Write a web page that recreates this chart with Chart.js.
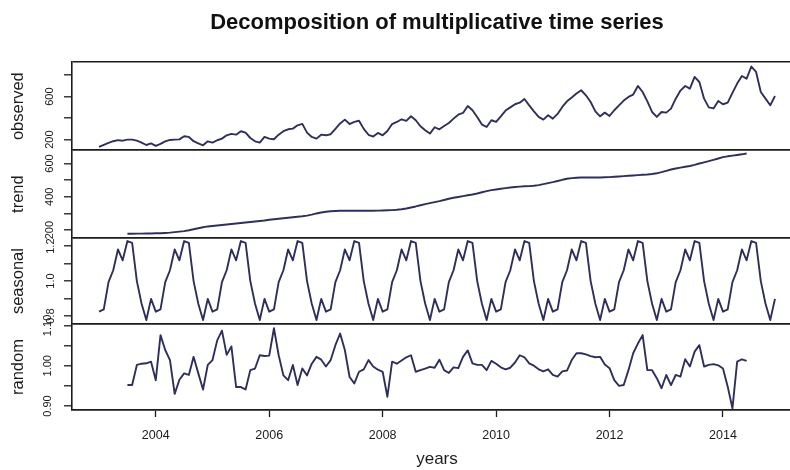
<!DOCTYPE html>
<html>
<head>
<meta charset="utf-8">
<script src="https://cdn.jsdelivr.net/npm/chart.js@4.4.1/dist/chart.umd.min.js"></script>
<style>
html, body { margin: 0; padding: 0; background: #ffffff; overflow: hidden; width: 790px; height: 470px; }
#wrap { width: 802px; height: 470px; }
</style>
</head>
<body>
<div id="wrap"><canvas id="c" width="802" height="470"></canvas></div>
<script>
// ---- time base (monthly series, Jan 2003 .. Dec 2014)
const startYear = 2003;
const perYear = 12;

// ---- observed (144 months)
const observed = [
  132, 152, 170, 185, 195, 190, 200, 200, 190, 172, 150, 165,
  141, 160, 184, 197, 200, 202, 231, 225, 185, 165, 147, 184,
  172, 194, 209, 240, 253, 246, 278, 265, 215, 184, 172, 225,
  209, 203, 246, 278, 296, 302, 333, 346, 265, 225, 209, 246,
  240, 250, 300, 350, 386, 345, 365, 375, 300, 245, 228, 262,
  240, 280, 345, 364, 389, 374, 417, 380, 324, 287, 256, 315,
  296, 327, 355, 395, 432, 448, 513, 473, 411, 340, 318, 380,
  364, 417, 470, 500, 529, 544, 578, 519, 463, 411, 386, 426,
  395, 439, 504, 556, 591, 628, 659, 612, 550, 463, 417, 451,
  420, 473, 519, 563, 597, 619, 699, 643, 556, 457, 411, 457,
  451, 488, 581, 656, 699, 674, 783, 736, 581, 500, 490, 560,
  529, 544, 634, 721, 792, 767, 880, 829, 643, 581, 519, 606
];

// ---- trend (centred moving average: first and last 6 months missing)
const trend = [
  null, null, null, null, null, null, 178, 178, 179, 179, 180, 180,
  181, 181, 183, 185, 188, 191, 194, 199, 205, 211, 217, 222,
  225, 228, 231, 234, 237, 240, 243, 246, 249, 252, 255, 258,
  262, 265, 268, 271, 274, 277, 280, 283, 287, 293, 300, 306,
  310, 313, 315, 316, 316, 316, 316, 316, 316, 316, 316, 317,
  318, 319, 320, 322, 325, 330, 336, 342, 349, 356, 362, 368,
  374, 381, 388, 394, 399, 404, 409, 414, 420, 427, 434, 440,
  444, 448, 452, 456, 459, 461, 463, 464, 466, 470, 476, 482,
  488, 495, 502, 508, 512, 514, 516, 516, 516, 516, 516, 517,
  518, 520, 522, 524, 526, 528, 530, 532, 534, 537, 541, 548,
  556, 564, 570, 575, 580, 585, 592, 600, 607, 614, 622, 630,
  638, 643, 647, 651, 655, 660, null, null, null, null, null, null
];

// ---- seasonal (144 months)
const seasonal = [
  0.825, 0.838, 0.994, 1.062, 1.181, 1.119, 1.229, 1.219, 1.000, 0.870, 0.777, 0.898,
  0.825, 0.838, 0.994, 1.062, 1.181, 1.119, 1.229, 1.219, 1.000, 0.870, 0.777, 0.898,
  0.825, 0.838, 0.994, 1.062, 1.181, 1.119, 1.229, 1.219, 1.000, 0.870, 0.777, 0.898,
  0.825, 0.838, 0.994, 1.062, 1.181, 1.119, 1.229, 1.219, 1.000, 0.870, 0.777, 0.898,
  0.825, 0.838, 0.994, 1.062, 1.181, 1.119, 1.229, 1.219, 1.000, 0.870, 0.777, 0.898,
  0.825, 0.838, 0.994, 1.062, 1.181, 1.119, 1.229, 1.219, 1.000, 0.870, 0.777, 0.898,
  0.825, 0.838, 0.994, 1.062, 1.181, 1.119, 1.229, 1.219, 1.000, 0.870, 0.777, 0.898,
  0.825, 0.838, 0.994, 1.062, 1.181, 1.119, 1.229, 1.219, 1.000, 0.870, 0.777, 0.898,
  0.825, 0.838, 0.994, 1.062, 1.181, 1.119, 1.229, 1.219, 1.000, 0.870, 0.777, 0.898,
  0.825, 0.838, 0.994, 1.062, 1.181, 1.119, 1.229, 1.219, 1.000, 0.870, 0.777, 0.898,
  0.825, 0.838, 0.994, 1.062, 1.181, 1.119, 1.229, 1.219, 1.000, 0.870, 0.777, 0.898,
  0.825, 0.838, 0.994, 1.062, 1.181, 1.119, 1.229, 1.219, 1.000, 0.870, 0.777, 0.898
];

// ---- random (remainder; first and last 6 months missing)
const random = [
  null, null, null, null, null, null, 0.952, 0.952, 1.002, 1.005, 1.006, 1.010,
  0.964, 1.076, 1.039, 1.014, 0.930, 0.965, 0.981, 0.977, 1.022, 0.981, 0.941, 1.002,
  1.014, 1.063, 1.087, 1.027, 1.048, 0.947, 0.947, 0.941, 0.989, 0.993, 1.026, 1.024,
  1.025, 1.093, 1.026, 0.976, 0.964, 1.002, 0.952, 0.993, 0.976, 1.005, 1.022, 1.015,
  0.998, 1.014, 1.051, 1.080, 1.039, 0.972, 0.956, 0.985, 0.991, 1.014, 0.998, 0.990,
  0.985, 0.923, 1.010, 1.005, 1.013, 1.021, 1.026, 0.985, 0.989, 0.993, 0.997, 0.995,
  1.015, 0.989, 0.982, 0.996, 0.994, 1.022, 1.038, 1.006, 1.002, 1.002, 0.989, 1.012,
  1.005, 0.996, 0.991, 0.995, 1.008, 1.026, 1.021, 1.006, 1.000, 0.991, 0.986, 0.991,
  0.977, 0.973, 0.986, 0.988, 1.014, 1.031, 1.031, 1.028, 1.024, 1.021, 1.022, 1.003,
  0.994, 0.964, 0.950, 0.952, 0.989, 1.031, 1.055, 1.076, 0.989, 0.989, 0.969, 0.944,
  0.977, 0.952, 0.977, 0.973, 1.016, 0.998, 1.035, 1.051, 0.998, 1.002, 1.004, 1.001,
  0.993, 0.948, 0.894, 1.010, 1.016, 1.012, null, null, null, null, null, null
];

// ---- axes: ranges, tick values, tick labels
const xRange = [2002.523, 2015.393];
const xTickValues = [2004, 2006, 2008, 2010, 2012, 2014];
const xTickLabels = ['2004', '2006', '2008', '2010', '2012', '2014'];

const obsRange = [102, 920];
const obsTicks = [200, 400, 600, 800];
const obsTickLabels = ['200', '', '600', ''];

const trendRange = [152, 680];
const trendTicks = [200, 300, 400, 500, 600];
const trendTickLabels = ['200', '', '400', '', '600'];

const seasRange = [0.754, 1.246];
const seasTicks = [0.8, 0.9, 1.0, 1.1, 1.2];
const seasTickLabels = ['0.8', '', '1.0', '', '1.2'];

const randRange = [0.890, 1.1035];
const randTicks = [0.90, 0.95, 1.00, 1.05, 1.10];
const randTickLabels = ['0.90', '', '1.00', '', '1.10'];

const panelTitles = ['observed', 'trend', 'seasonal', 'random'];
const mainTitle = 'Decomposition of multiplicative time series';
const xTitle = 'years';

// ---- styling
const FONT = "'Liberation Sans', Arial, Helvetica, sans-serif";
const INK = '#1c1c1c';
const LINE = '#2f2f5c';

function toPoints(arr) {
  return arr.map((v, i) => ({ x: startYear + i / perYear, y: v }));
}

function yScale(range, ticks, labels, title, weight) {
  const last = ticks.length + 1;
  return {
    type: 'linear',
    position: 'left',
    stack: 'panels',
    stackWeight: weight,
    min: range[0],
    max: range[1],
    afterBuildTicks: s => { s.ticks = [range[0]].concat(ticks, [range[1]]).map(v => ({ value: v })); },
    afterFit: s => { s.width = 72; },
    ticks: {
      autoSkip: false,
      minRotation: 90,
      maxRotation: 90,
      crossAlign: 'center',
      padding: 5,
      color: INK,
      font: { family: FONT, size: 11 },
      callback: (v) => { const k = ticks.indexOf(v); return k >= 0 ? labels[k] : ''; }
    },
    grid: {
      drawOnChartArea: true,
      drawTicks: true,
      tickLength: 8,
      lineWidth: 1.6,
      tickWidth: 1.3,
      color: c => (c.index === 0 || c.index === last) ? INK : 'rgba(0,0,0,0)',
      tickColor: c => (c.index === 0 || c.index === last) ? 'rgba(0,0,0,0)' : INK
    },
    border: { display: true, color: INK, width: 1.6 },
    title: {
      display: true,
      text: title,
      color: INK,
      font: { family: FONT, size: 16.5, lineHeight: 1.2 },
      padding: { top: 9, bottom: 0 }
    }
  };
}

const lineStyle = {
  borderColor: LINE,
  borderWidth: 1.9,
  pointRadius: 0,
  pointHoverRadius: 0,
  tension: 0,
  fill: false,
  spanGaps: false,
  borderJoinStyle: 'round'
};

new Chart(document.getElementById('c'), {
  type: 'line',
  data: {
    datasets: [
      Object.assign({ label: panelTitles[0], data: toPoints(observed), xAxisID: 'x', yAxisID: 'yObs' }, lineStyle),
      Object.assign({ label: panelTitles[1], data: toPoints(trend), xAxisID: 'x', yAxisID: 'yTrend' }, lineStyle),
      Object.assign({ label: panelTitles[2], data: toPoints(seasonal), xAxisID: 'x', yAxisID: 'ySeas' }, lineStyle),
      Object.assign({ label: panelTitles[3], data: toPoints(random), xAxisID: 'x', yAxisID: 'yRand' }, lineStyle)
    ]
  },
  options: {
    responsive: false,
    devicePixelRatio: 1,
    animation: false,
    layout: { padding: 0 },
    plugins: {
      legend: { display: false },
      tooltip: { enabled: false },
      title: { display: false }
    },
    scales: {
      x: {
        type: 'linear',
        position: 'bottom',
        min: xRange[0],
        max: xRange[1],
        afterBuildTicks: s => { s.ticks = xTickValues.map(v => ({ value: v })); },
        afterFit: s => { s.height = 60; },
        ticks: {
          autoSkip: false,
          maxRotation: 0,
          padding: 11,
          color: INK,
          font: { family: FONT, size: 12.5 },
          callback: v => xTickLabels[xTickValues.indexOf(v)]
        },
        grid: { drawOnChartArea: false, drawTicks: true, tickLength: 7, color: INK, tickColor: INK, tickWidth: 1.3 },
        border: { display: true, color: INK, width: 1.6 },
        title: {
          display: true,
          text: xTitle,
          color: INK,
          font: { family: FONT, size: 17, lineHeight: 1.2 },
          padding: { top: 0, bottom: 0 }
        }
      },
      xTop: {
        type: 'linear',
        position: 'top',
        min: xRange[0],
        max: xRange[1],
        afterFit: s => { s.height = 62.2; },
        ticks: { display: false },
        grid: { display: false, drawTicks: false },
        border: { display: false },
        title: {
          display: true,
          text: mainTitle,
          color: '#111111',
          font: { family: FONT, size: 22, weight: 'bold', lineHeight: 1.2 },
          padding: { top: 9.5, bottom: 0 }
        }
      },
      yRand: yScale(randRange, randTicks, randTickLabels, panelTitles[3], 86),
      ySeas: yScale(seasRange, seasTicks, seasTickLabels, panelTitles[2], 86),
      yTrend: yScale(trendRange, trendTicks, trendTickLabels, panelTitles[1], 88),
      yObs: yScale(obsRange, obsTicks, obsTickLabels, panelTitles[0], 88)
    }
  }
});
</script>
</body>
</html>
